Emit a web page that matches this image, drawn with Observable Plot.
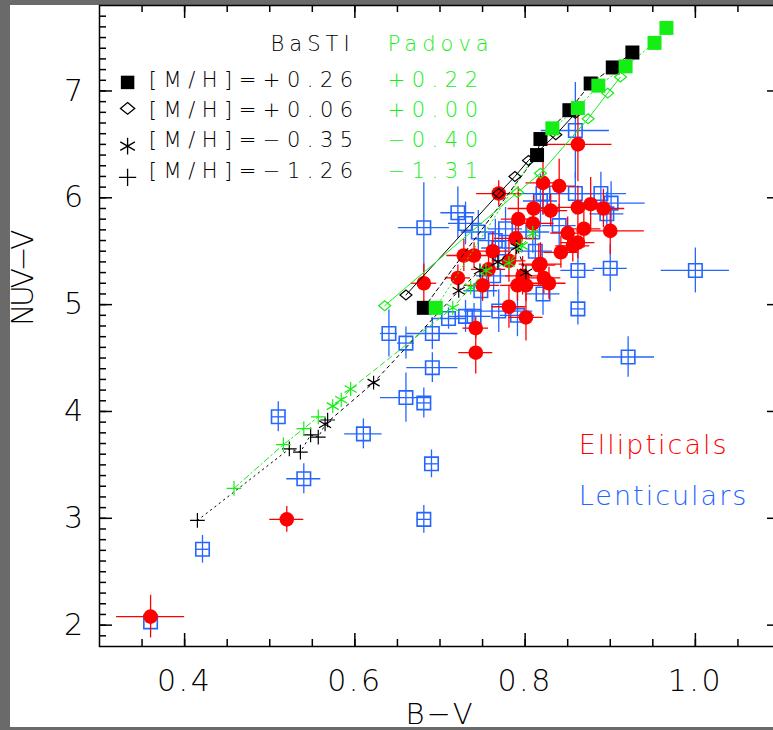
<!DOCTYPE html>
<html>
<head>
<meta charset="utf-8">
<script src="https://cdn.jsdelivr.net/npm/d3@7"></script>
<script src="https://cdn.jsdelivr.net/npm/@observablehq/plot@0.6"></script>
<style>
  html, body { margin: 0; padding: 0; width: 773px; height: 730px; overflow: hidden; background: #6a6a6a; }
  #paper { position: absolute; left: 10px; top: 5px; width: 820px; height: 722px; background: #fff; }
  #chart { position: absolute; left: 0; top: 0; }
  #chart svg text { font-family: "DejaVu Sans", sans-serif; font-weight: 200; }
  g[aria-description="legend-labels"] text { letter-spacing: 6.5px; }
  g[aria-description="legend-heads"] text { letter-spacing: 5px; }
  g[aria-description="class-labels"] text { letter-spacing: 2px; }
  g[aria-description="tick-labels"] text { letter-spacing: 2.5px; }
  g[aria-description="x-title"] text { letter-spacing: 2px; }
  g[aria-description="y-title"] text { letter-spacing: -3.5px; }
</style>
</head>
<body>
<div id="paper"></div>
<div id="chart"></div>
<script>
// ---- Galaxies: ellipticals (B-V, NUV-V with 1-sigma errors) ----
const ellBV     = [0.360,0.520,0.681,0.721,0.769,0.862,0.821,0.840,0.810,0.830,0.862,0.877,0.892,0.792,0.809,0.850,0.869,0.900,0.856,0.842,0.818,0.822,0.797,0.789,0.728,0.740,0.762,0.750,0.781,0.801,0.742,0.742,0.791,0.757,0.781,0.816,0.862,0.828,0.801];
const ellBVErr  = [0.040,0.020,0.015,0.015,0.026,0.040,0.020,0.020,0.030,0.020,0.025,0.020,0.025,0.020,0.025,0.020,0.020,0.040,0.020,0.020,0.025,0.020,0.020,0.025,0.020,0.020,0.020,0.020,0.020,0.020,0.015,0.020,0.020,0.020,0.020,0.020,0.020,0.020,0.020];
const ellNUV    = [2.08,2.99,5.20,5.25,6.04,6.50,6.14,6.11,5.90,5.88,5.91,5.94,5.90,5.80,5.76,5.67,5.71,5.69,5.55,5.49,5.38,5.25,5.27,5.62,5.46,5.46,5.50,5.18,4.98,4.88,4.78,4.55,5.18,5.33,5.41,5.37,5.58,5.20,5.18];
const ellNUVErr = [0.20,0.12,0.18,0.12,0.12,0.35,0.30,0.25,0.12,0.15,0.20,0.25,0.18,0.30,0.15,0.15,0.18,0.22,0.15,0.15,0.20,0.15,0.18,0.20,0.15,0.12,0.18,0.15,0.20,0.22,0.10,0.20,0.15,0.18,0.20,0.20,0.15,0.15,0.15];

// ---- Galaxies: lenticulars ----
const lenBV     = [0.360,0.421,0.510,0.540,0.610,0.681,0.690,0.660,0.681,0.691,0.640,0.660,0.691,0.710,0.730,0.740,0.769,0.791,0.862,0.862,0.900,1.000,0.921,0.681,0.721,0.730,0.859,0.821,0.859,0.889,0.901,0.777,0.818,0.840,0.821,0.769,0.812,0.809,0.763,0.748,0.765,0.896,0.745];
const lenBVErr  = [0.005,0.008,0.008,0.020,0.022,0.008,0.008,0.030,0.008,0.030,0.010,0.010,0.030,0.020,0.020,0.020,0.040,0.020,0.008,0.020,0.020,0.040,0.031,0.030,0.020,0.020,0.040,0.030,0.030,0.030,0.040,0.020,0.020,0.020,0.020,0.020,0.020,0.020,0.020,0.020,0.020,0.020,0.020];
const lenNUV    = [2.03,2.71,3.95,3.37,3.79,2.99,3.51,4.13,4.08,4.41,4.73,4.64,4.73,4.87,4.89,4.89,4.94,4.90,4.96,5.32,5.34,5.32,4.51,5.72,5.86,5.76,6.63,6.04,6.04,6.04,5.95,5.71,5.97,5.74,5.10,5.53,5.50,5.68,5.27,5.13,5.60,5.85,5.68];
const lenNUVErr = [0.03,0.13,0.14,0.14,0.14,0.13,0.13,0.23,0.14,0.14,0.22,0.15,0.15,0.10,0.15,0.12,0.20,0.20,0.15,0.22,0.22,0.21,0.19,0.42,0.24,0.20,0.45,0.20,0.20,0.20,0.20,0.20,0.25,0.20,0.20,0.20,0.20,0.20,0.20,0.20,0.20,0.20,0.20];

// ---- SSP model tracks (age sequences) ----
const basti026BV  = [0.681,0.814,0.818,0.852,0.877,0.903,0.926];
const basti026NUV = [4.97,6.40,6.55,6.82,7.07,7.22,7.36];
const basti006BV  = [0.660,0.769,0.788,0.804,0.836,0.859];
const basti006NUV = [5.09,6.04,6.20,6.35,6.59,6.79];
const basti035BV  = [0.565,0.622,0.722,0.747,0.768,0.790,0.801];
const basti035NUV = [3.88,4.27,5.13,5.32,5.40,5.54,5.30];
const basti126BV  = [0.415,0.523,0.536,0.548,0.557,0.568];
const basti126NUV = [2.98,3.65,3.62,3.78,3.76,3.92];

const padova022BV  = [0.695,0.832,0.862,0.886,0.918,0.952,0.966];
const padova022NUV = [4.97,6.65,6.84,7.05,7.23,7.45,7.59];
const padova000BV  = [0.635,0.791,0.818,0.874,0.897,0.912];
const padova000NUV = [4.99,6.05,6.23,6.74,6.98,7.13];
const padova040BV  = [0.574,0.584,0.595,0.715,0.736,0.754,0.781,0.796,0.809];
const padova040NUV = [4.05,4.11,4.21,4.97,5.16,5.32,5.39,5.55,5.67];
const padova131BV  = [0.458,0.516,0.540,0.557];
const padova131NUV = [3.28,3.69,3.84,3.95];

// ---- Text ----
const bastiLabels  = ["[M/H]=+0.26", "[M/H]=+0.06", "[M/H]=\u22120.35", "[M/H]=\u22121.26"];
const padovaLabels = ["+0.22", "+0.00", "\u22120.40", "\u22121.31"];
const xTickLabels  = [0.4, 0.6, 0.8, 1.0];
const yTickLabels  = [2, 3, 4, 5, 6, 7];

// ---- Layout ----
const W = 790, H = 730;
const mL = 99, mR = 10, mT = 5, mB = 84;
const xDom = [0.3, 1.1], yDom = [1.8, 7.8];
const pxPerX = (W - mL - mR) / (xDom[1] - xDom[0]);
const pxPerY = (H - mT - mB) / (yDom[1] - yDom[0]);

const RED = "#ff0000", BLUE = "#2465ff", GREEN = "#14ee14", BLACK = "#000";

// open diamond (rotated square, slightly wider than tall)
const diamond = {
  draw(ctx, size) {
    const r = Math.sqrt(size / Math.PI);
    ctx.moveTo(0, -r * 0.95); ctx.lineTo(r * 1.15, 0); ctx.lineTo(0, r * 0.95); ctx.lineTo(-r * 1.15, 0); ctx.closePath();
  }
};

const zip = (xs, ys, ex, ey) => xs.map((x, i) => ({x, y: ys[i], ex: ex ? ex[i] : 0, ey: ey ? ey[i] : 0}));
const ell = zip(ellBV, ellNUV, ellBVErr, ellNUVErr);
const len = zip(lenBV, lenNUV, lenBVErr, lenNUVErr);

// symbol styles shared by tracks and legend
const symStyles = [
  {symbol: "square",   r: 7.9, fill: true},
  {symbol: diamond,    r: 5.2, fill: false},
  {symbol: "asterisk", r: 6.6, fill: false},
  {symbol: "plus",     r: 4.8, fill: false}
];
const legendSym = [
  {r: 7.6}, {r: 6.2}, {r: 8.0}, {r: 5.6}
];

const tracks = [
  {bv: basti026BV,  nuv: basti026NUV,  color: BLACK, dash: "4,3", s: 0},
  {bv: basti006BV,  nuv: basti006NUV,  color: BLACK, dash: null,  s: 1},
  {bv: basti035BV,  nuv: basti035NUV,  color: BLACK, dash: "3,4", s: 2},
  {bv: basti126BV,  nuv: basti126NUV,  color: BLACK, dash: "1.5,4", s: 3},
  {bv: padova022BV, nuv: padova022NUV, color: GREEN, dash: "1.5,3", s: 0},
  {bv: padova000BV, nuv: padova000NUV, color: GREEN, dash: null,  s: 1},
  {bv: padova040BV, nuv: padova040NUV, color: GREEN, dash: "5,4", s: 2},
  {bv: padova131BV, nuv: padova131NUV, color: GREEN, dash: "6,3,1.5,3", s: 3}
];

const trackMarks = [];
for (const t of tracks) {
  const pts = zip(t.bv, t.nuv);
  trackMarks.push(Plot.line(pts, {x: "x", y: "y", stroke: t.color, strokeWidth: 1, strokeDasharray: t.dash ?? undefined}));
}
for (const t of tracks) {
  const pts = zip(t.bv, t.nuv);
  const st = symStyles[t.s];
  trackMarks.push(Plot.dot(pts, st.fill
    ? {x: "x", y: "y", symbol: st.symbol, r: st.r, fill: t.color, stroke: "none"}
    : {x: "x", y: "y", symbol: st.symbol, r: st.r, fill: "none", stroke: t.color, strokeWidth: 1.2}));
}

// tick marks (inside the frame, on all four sides)
const xMinor = d3.range(0.35, 1.1 - 1e-9, 0.05);
const yMinor = d3.range(1.9, 7.8 - 1e-9, 0.1);
const minLen = 7, majLen = 13;
const tickMarks = [
  Plot.ruleX(xMinor, {x: d => d, y1: yDom[0], y2: yDom[0] + minLen / pxPerY, stroke: BLACK, strokeWidth: 1.5}),
  Plot.ruleX(xTickLabels, {x: d => d, y1: yDom[0], y2: yDom[0] + majLen / pxPerY, stroke: BLACK, strokeWidth: 1.5}),
  Plot.ruleX(xMinor, {x: d => d, y1: yDom[1], y2: yDom[1] - minLen / pxPerY, stroke: BLACK, strokeWidth: 1.5}),
  Plot.ruleX(xTickLabels, {x: d => d, y1: yDom[1], y2: yDom[1] - majLen / pxPerY, stroke: BLACK, strokeWidth: 1.5}),
  Plot.ruleY(yMinor, {y: d => d, x1: xDom[0], x2: xDom[0] + minLen / pxPerX, stroke: BLACK, strokeWidth: 1.5}),
  Plot.ruleY(yTickLabels, {y: d => d, x1: xDom[0], x2: xDom[0] + majLen / pxPerX, stroke: BLACK, strokeWidth: 1.5}),
  Plot.ruleY(yMinor, {y: d => d, x1: xDom[1], x2: xDom[1] - minLen / pxPerX, stroke: BLACK, strokeWidth: 1.5}),
  Plot.ruleY(yTickLabels, {y: d => d, x1: xDom[1], x2: xDom[1] - majLen / pxPerX, stroke: BLACK, strokeWidth: 1.5})
];

// legend block (upper left, inside the frame)
const legSymX = 0.333, legTextX = 0.358, legPadX = 0.6385;
const legY0 = 7.10, legStep = 0.283, legHeadY = 7.44;
const legSymDy = [-0.02, 0.02, -0.05, -0.06];
const legendRows = bastiLabels.map((b, i) => ({basti: b, padova: padovaLabels[i], y: legY0 - i * legStep}));

const legendMarks = [
  Plot.text(["BaSTI"], {x: 0.501, y: legHeadY, text: d => d, textAnchor: "start", fontSize: 21, fill: BLACK, ariaDescription: "legend-heads"}),
  Plot.text(["Padova"], {x: legPadX, y: legHeadY, text: d => d, textAnchor: "start", fontSize: 21, fill: GREEN, ariaDescription: "legend-heads"}),
  Plot.text(legendRows, {x: legTextX, y: "y", text: "basti", textAnchor: "start", fontSize: 21, fill: BLACK, ariaDescription: "legend-labels"}),
  Plot.text(legendRows, {x: legPadX, y: "y", text: "padova", textAnchor: "start", fontSize: 21, fill: GREEN, ariaDescription: "legend-labels"}),
  ...legendRows.map((row, i) => {
    const st = symStyles[i];
    const r = legendSym[i].r;
    return Plot.dot([row], st.fill
      ? {x: legSymX, y: d => d.y + legSymDy[i], symbol: st.symbol, r, fill: BLACK, stroke: "none"}
      : {x: legSymX, y: d => d.y + legSymDy[i], symbol: st.symbol, r, fill: "none", stroke: BLACK, strokeWidth: 1.3});
  }),
  Plot.text(["Ellipticals"], {x: 0.863, y: 3.68, text: d => d, textAnchor: "start", fontSize: 27, fill: RED, ariaDescription: "class-labels"}),
  Plot.text(["Lenticulars"], {x: 0.863, y: 3.21, text: d => d, textAnchor: "start", fontSize: 27, fill: BLUE, ariaDescription: "class-labels"})
];

const chart = Plot.plot({
  width: W, height: H,
  marginLeft: mL, marginRight: mR, marginTop: mT, marginBottom: mB,
  style: {background: "transparent", maxWidth: "none", overflow: "visible"},
  x: {domain: xDom, axis: null},
  y: {domain: yDom, axis: null},
  marks: [
    // lenticulars
    Plot.ruleY(len, {y: "y", x1: d => d.x - d.ex, x2: d => d.x + d.ex, stroke: BLUE, strokeWidth: 1.3}),
    Plot.ruleX(len, {x: "x", y1: d => d.y - d.ey, y2: d => d.y + d.ey, stroke: BLUE, strokeWidth: 1.3}),
    Plot.dot(len, {x: "x", y: "y", symbol: "square", r: 7.6, fill: "none", stroke: BLUE, strokeWidth: 1.6}),
    // ellipticals
    Plot.ruleY(ell, {y: "y", x1: d => d.x - d.ex, x2: d => d.x + d.ex, stroke: RED, strokeWidth: 1.3}),
    Plot.ruleX(ell, {x: "x", y1: d => d.y - d.ey, y2: d => d.y + d.ey, stroke: RED, strokeWidth: 1.3}),
    Plot.dot(ell, {x: "x", y: "y", r: 7.3, fill: RED, stroke: "none"}),
    // model tracks
    ...trackMarks,
    // frame, ticks, labels
    Plot.frame({stroke: BLACK, strokeWidth: 1.5}),
    ...tickMarks,
    Plot.text(xTickLabels, {x: d => d, frameAnchor: "bottom", dy: 23, lineAnchor: "top", text: d => d.toFixed(1), fontSize: 30, fill: BLACK, ariaDescription: "tick-labels"}),
    Plot.text(yTickLabels, {y: d => d, frameAnchor: "left", dx: -14, textAnchor: "end", text: d => String(d), fontSize: 30, fill: BLACK, ariaDescription: "tick-labels"}),
    Plot.text(["B\u2212V"], {frameAnchor: "bottom", dy: 57, lineAnchor: "top", text: d => d, fontSize: 29, fill: BLACK, ariaDescription: "x-title"}),
    Plot.text(["NUV\u2212V"], {frameAnchor: "left", dx: -76, rotate: -90, text: d => d, fontSize: 30, fill: BLACK, ariaDescription: "y-title"}),
    ...legendMarks
  ]
});

document.getElementById("chart").appendChild(chart);
</script>
</body>
</html>
